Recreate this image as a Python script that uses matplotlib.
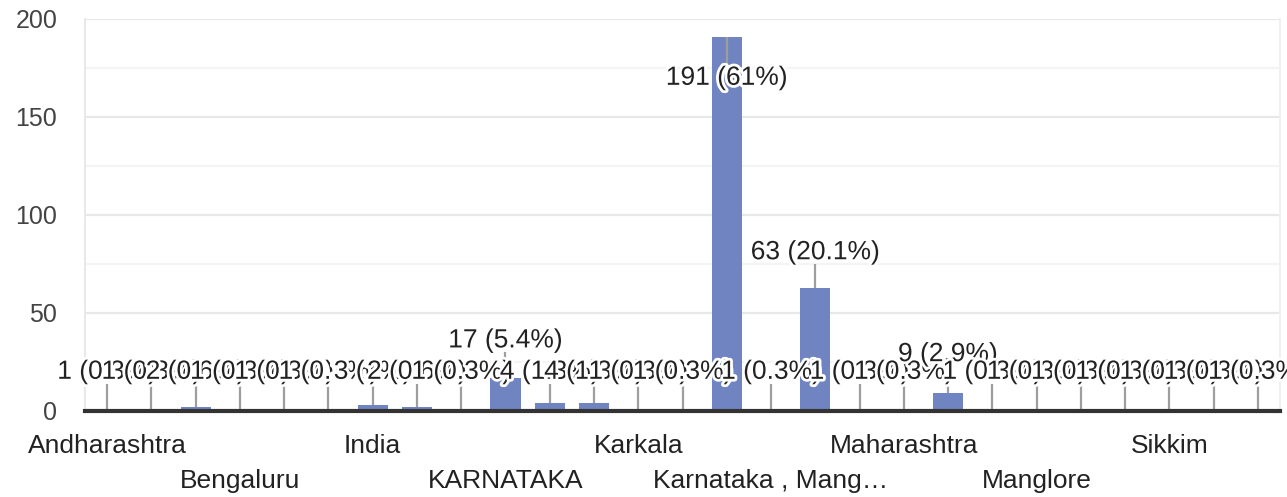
# Grafico de barras: respuestas por lugar (estilo Google Forms)
import matplotlib
matplotlib.use("Agg")
import matplotlib.pyplot as plt
import matplotlib.patheffects as pe

plt.rcParams['font.family'] = ['Liberation Sans', 'DejaVu Sans']

# Datos (solo se ven algunos nombres en el eje)
categorias = ["Andharashtra", "", "", "Bengaluru", "", "", "India", "", "",
              "KARNATAKA", "", "", "Karkala", "", "", "Karnataka , Mang…", "", "",
              "Maharashtra", "", "", "Manglore", "", "", "Sikkim", "", ""]
respuestas = [1, 1, 2, 1, 1, 1, 3, 2, 1,
              17, 4, 4, 1, 1, 191, 1, 63, 1,
              1, 9, 1, 1, 1, 1, 1, 1, 1]
total = sum(respuestas)

# Posicion vertical de cada etiqueta (layout, en unidades del eje)
pos_etiqueta = [20] * len(respuestas)
pos_etiqueta[9] = 36
pos_etiqueta[19] = 29
pos_etiqueta[16] = 81
pos_etiqueta[14] = 170


def formato(v):
    p = round(v / total * 100, 1)
    s = f"{p:.1f}"
    if s.endswith(".0"):
        s = s[:-2]
    return f"{v} ({s}%)"


fig = plt.figure(figsize=(12.87, 4.97), dpi=100)
ax = fig.add_axes([85 / 1287, 1 - 411 / 497, 1195 / 1287, 392 / 497])

x = range(len(respuestas))
ax.bar(x, respuestas, width=0.68, color="#7084c1", zorder=3)

ax.set_xlim(-0.5, len(respuestas) - 0.5)
ax.set_ylim(0, 200)
ax.set_yticks([0, 50, 100, 150, 200])
ax.set_yticks([25, 75, 125, 175], minor=True)
ax.grid(axis='y', which='major', color="#e8e8e8", linewidth=1.6, zorder=0)
ax.grid(axis='y', which='minor', color="#f4f4f4", linewidth=1.6, zorder=0)
ax.tick_params(axis='y', which='both', length=0, pad=20, labelsize=18, labelcolor="#444444")
ax.tick_params(axis='x', length=0, labelbottom=False)

ax.spines['top'].set_visible(False)
ax.spines['bottom'].set_visible(False)
ax.spines['left'].set_color("#e8e8e8")
ax.spines['right'].set_color("#f0f0f0")
ax.spines['left'].set_linewidth(1.4)
ax.spines['right'].set_linewidth(1.4)
ax.axhline(0, color="#333333", linewidth=3, zorder=6, clip_on=False)

# Lineas guia y etiquetas de valor
for i, v in enumerate(respuestas):
    y = pos_etiqueta[i]
    if y > v:
        ax.vlines(i, v, y - 6, color="#9e9e9e", linewidth=1.6, zorder=4)
    else:
        ax.vlines(i, y + 7, v, color="#9e9e9e", linewidth=1.6, zorder=4)
    ax.text(i, y, formato(v), ha='center', va='center', fontsize=19,
            color="#222222", zorder=10 + i,
            path_effects=[pe.withStroke(linewidth=4, foreground='white')])

# Nombres en el eje x, en dos filas alternadas
k = 0
for i, nombre in enumerate(categorias):
    if nombre == "":
        continue
    desplaz = 35 if k % 2 == 0 else 70
    ax.annotate(nombre, xy=(i, 0), xycoords=('data', 'axes fraction'),
                xytext=(0, -desplaz), textcoords='offset pixels',
                ha='center', va='center', fontsize=19, color="#222222",
                annotation_clip=False)
    k += 1

fig.savefig("out.png", dpi=100)
